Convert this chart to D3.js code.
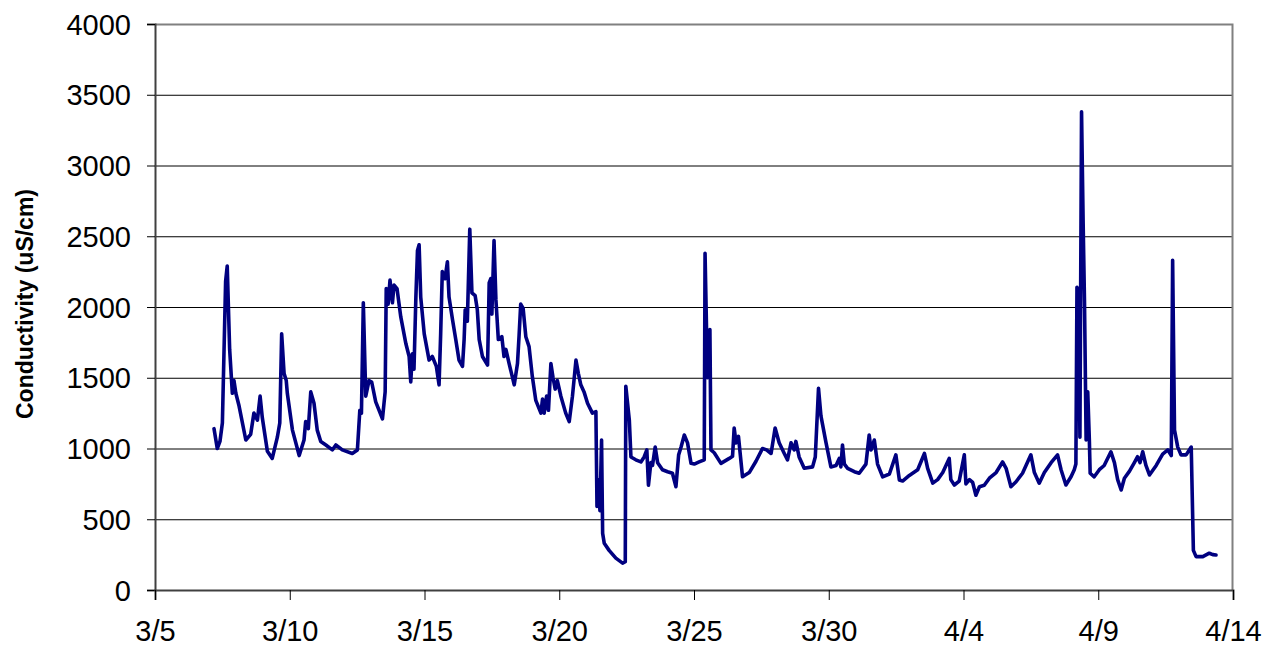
<!DOCTYPE html>
<html>
<head>
<meta charset="utf-8">
<script src="https://cdn.jsdelivr.net/npm/d3@7"></script>
<style>
  body { margin: 0; background: #fff; }
  svg text { font-family: "Liberation Sans", Arial, sans-serif; fill: #000; }
</style>
</head>
<body>
<div id="chart"></div>
<script>
(function () {
    'use strict';

    // days after 3/5 00:00 for each reading
    var dayOffset = [
        2.19, 2.31, 2.41, 2.50, 2.62, 2.68, 2.77, 2.87, 2.93, 3.00, 3.12, 3.37, 3.55, 3.67, 3.80, 3.90, 3.98,
        4.17, 4.35, 4.54, 4.63, 4.70, 4.79, 4.87, 4.91, 5.10, 5.35, 5.53, 5.59, 5.69, 5.78, 5.90, 6.02, 6.15,
        6.34, 6.58, 6.71, 6.95, 7.32, 7.51, 7.60, 7.66, 7.73, 7.82, 7.94, 8.04, 8.19, 8.44, 8.54, 8.58, 8.65,
        8.72, 8.81, 8.87, 8.98, 9.12, 9.31, 9.43, 9.49, 9.55, 9.61, 9.68, 9.74, 9.80, 9.86, 9.99, 10.17, 10.29,
        10.44, 10.54, 10.60, 10.66, 10.76, 10.85, 10.91, 11.04, 11.16, 11.28, 11.41, 11.47, 11.51, 11.59, 11.68,
        11.76, 11.88, 11.96, 12.03, 12.15, 12.34, 12.40, 12.46, 12.50, 12.58, 12.65, 12.74, 12.87, 12.95, 13.02,
        13.14, 13.33, 13.45, 13.51, 13.57, 13.66, 13.76, 13.88, 14.00, 14.13, 14.32, 14.38, 14.44, 14.53, 14.60,
        14.69, 14.77, 14.85, 14.93, 15.06, 15.24, 15.37, 15.49, 15.62, 15.71, 15.80, 15.92, 16.05, 16.23, 16.36,
        16.40, 16.45, 16.51, 16.57, 16.61, 16.67, 16.85, 17.10, 17.35, 17.45, 17.47, 17.60, 17.66, 17.84, 18.03,
        18.15, 18.25, 18.31, 18.40, 18.46, 18.56, 18.65, 18.83, 19.02, 19.20, 19.33, 19.43, 19.52, 19.64, 19.76,
        19.89, 20.01, 20.19, 20.38, 20.41, 20.50, 20.59, 20.63, 20.75, 21.00, 21.31, 21.43, 21.49, 21.56, 21.65,
        21.80, 22.05, 22.30, 22.54, 22.69, 22.86, 23.01, 23.16, 23.35, 23.47, 23.60, 23.72, 23.78, 23.90, 24.09,
        24.40, 24.50, 24.62, 24.71, 24.90, 25.08, 25.27, 25.39, 25.45, 25.51, 25.58, 25.70, 25.95, 26.13, 26.38,
        26.50, 26.57, 26.69, 26.81, 27.00, 27.25, 27.49, 27.62, 27.74, 27.99, 28.30, 28.55, 28.67, 28.86, 29.04,
        29.23, 29.47, 29.53, 29.66, 29.84, 30.03, 30.09, 30.22, 30.34, 30.46, 30.59, 30.77, 30.96, 31.21, 31.45,
        31.58, 31.76, 31.95, 32.19, 32.50, 32.63, 32.81, 33.00, 33.25, 33.49, 33.62, 33.80, 33.99, 34.11, 34.17,
        34.21, 34.27, 34.32, 34.38, 34.44, 34.49, 34.55, 34.61, 34.67, 34.70, 34.85, 35.04, 35.22, 35.47, 35.60,
        35.72, 35.85, 35.97, 36.16, 36.34, 36.46, 36.55, 36.65, 36.77, 36.90, 37.15, 37.39, 37.58, 37.71, 37.76,
        37.83, 37.95, 38.07, 38.26, 38.45, 38.53, 38.63, 38.88, 39.12, 39.25, 39.37
    ];

    // conductivity, uS/cm
    var conductivity = [
        1140, 1000, 1050, 1180, 2180, 2290, 1700, 1390, 1480, 1390, 1300, 1060, 1100, 1250, 1200, 1370, 1220,
        980, 930, 1080, 1180, 1810, 1530, 1480, 1390, 1130, 950, 1060, 1190, 1140, 1400, 1320, 1130, 1050,
        1025, 990, 1025, 990, 965, 990, 1270, 1250, 2030, 1370, 1480, 1470, 1330, 1210, 1400, 2130, 2020,
        2190, 2030, 2155, 2130, 1930, 1740, 1650, 1470, 1670, 1560, 2070, 2400, 2440, 2070, 1810, 1625, 1650,
        1580, 1450, 1810, 2250, 2200, 2320, 2070, 1910, 1770, 1625, 1580, 1770, 1980, 1900, 2550,
        2100, 2080, 1980, 1770, 1650, 1590, 2170, 2200, 1950, 2470, 2050, 1770, 1790, 1650, 1700,
        1600, 1450, 1600, 1800, 2020, 1990, 1790, 1720, 1510, 1340, 1250, 1350, 1250, 1370, 1270,
        1600, 1500, 1420, 1480, 1370, 1250, 1190, 1370, 1625, 1530, 1450, 1400, 1320, 1250, 1260,
        590, 780, 560, 1060, 400, 330, 280, 225, 190, 200, 1440, 1200, 940, 920, 905,
        940, 990, 740, 900, 880, 1010, 900, 850, 836, 825, 730, 955, 1010, 1095, 1040,
        895, 890, 905, 920, 2380, 1500, 1840, 990, 970, 895, 930, 945, 1145, 1040, 1085,
        800, 830, 910, 1000, 990, 965, 1145, 1040, 965, 920, 1040, 990, 1050, 940, 860,
        870, 940, 1425, 1230, 1040, 870, 880, 930, 870, 1025, 890, 860, 836, 825, 890,
        1095, 990, 1060, 890, 800, 820, 955, 777, 770, 810, 850, 965, 860, 755, 780,
        830, 930, 780, 742, 770, 955, 750, 780, 760, 670, 730, 740, 790, 830, 905,
        860, 730, 765, 825, 955, 830, 755, 830, 900, 955, 850, 742, 800, 850, 890,
        2140, 2100, 1080, 3380, 2590, 2030, 1060, 1400, 1060, 825, 800, 850, 880, 977, 900,
        780, 707, 790, 840, 900, 942, 900, 977, 880, 813, 880, 960, 990, 950, 2330,
        1130, 1010, 955, 955, 1010, 280, 236, 236, 260, 250, 247
    ];

    var yTicks = [0, 500, 1000, 1500, 2000, 2500, 3000, 3500, 4000];
    var xTickDays = [0, 5, 10, 15, 20, 25, 30, 35, 40];
    var axisTitle = 'Conductivity (uS/cm)';

    var width = 1271, height = 647;
    var margin = { top: 24, right: 38, bottom: 57, left: 155 };
    var startDate = new Date(2007, 2, 5);

    function toDate(d) {
        return new Date(startDate.getTime() + d * 864e5);
    }

    var data = dayOffset.map(function (d, i) {
        return { date: toDate(d), value: conductivity[i] };
    });

    var x = d3.scaleTime()
        .domain([toDate(0), toDate(40)])
        .range([margin.left, width - margin.right]);
    var y = d3.scaleLinear()
        .domain([0, 4000])
        .range([height - margin.bottom, margin.top]);

    var svg = d3.select('#chart').append('svg')
        .attr('width', width)
        .attr('height', height);

    // gridlines
    svg.append('g')
        .selectAll('line')
        .data(yTicks.slice(1, -1))
        .enter()
        .append('line')
        .attr('x1', margin.left).attr('x2', width - margin.right)
        .attr('y1', function (d) { return y(d) + 0.5; })
        .attr('y2', function (d) { return y(d) + 0.5; })
        .attr('stroke', '#000')
        .attr('stroke-width', 1);

    // plot area border (top/right)
    svg.append('path')
        .attr('d', 'M' + margin.left + ',' + (margin.top + 0.5) +
            'H' + (width - margin.right - 0.5) + 'V' + (height - margin.bottom))
        .attr('fill', 'none')
        .attr('stroke', '#808080')
        .attr('stroke-width', 2);

    // y axis
    var yAxis = d3.axisLeft(y)
        .tickValues(yTicks)
        .tickSize(8)
        .tickPadding(16)
        .tickFormat(d3.format('d'));
    var gy = svg.append('g')
        .attr('transform', 'translate(' + margin.left + ',0)')
        .call(yAxis);
    gy.select('.domain').attr('stroke', '#404040').attr('stroke-width', 2);
    gy.selectAll('.tick line').attr('stroke', '#000');
    gy.selectAll('text').style('font-size', '29px').attr('dy', '0.35em');

    // x axis
    var xAxis = d3.axisBottom(x)
        .tickValues(xTickDays.map(toDate))
        .tickSize(10)
        .tickPadding(20)
        .tickFormat(d3.timeFormat('%-m/%-d'));
    var gx = svg.append('g')
        .attr('transform', 'translate(0,' + (height - margin.bottom) + ')')
        .call(xAxis);
    gx.select('.domain').attr('stroke', '#404040').attr('stroke-width', 2);
    gx.selectAll('.tick line').attr('stroke', '#000');
    gx.selectAll('text').style('font-size', '29px');

    // series
    var line = d3.line()
        .x(function (d) { return x(d.date); })
        .y(function (d) { return y(d.value); });

    svg.append('path')
        .datum(data)
        .attr('fill', 'none')
        .attr('stroke', '#000080')
        .attr('stroke-width', 3.6)
        .attr('stroke-linejoin', 'round')
        .attr('stroke-linecap', 'round')
        .attr('d', line);

    // axis title
    svg.append('text')
        .attr('transform', 'translate(33,304) rotate(-90)')
        .attr('text-anchor', 'middle')
        .style('font-size', '23px')
        .style('font-weight', 'bold')
        .text(axisTitle);
})();
</script>
</body>
</html>
